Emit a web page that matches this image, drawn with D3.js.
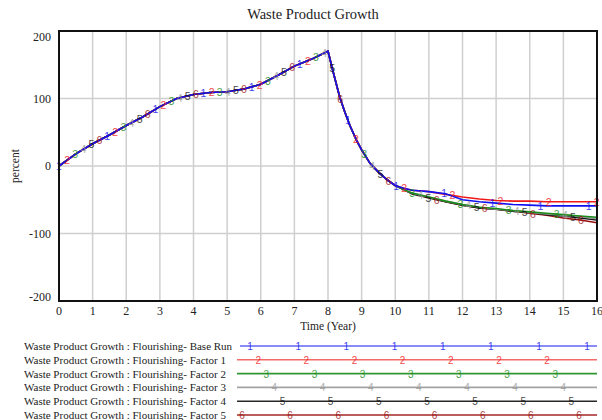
<!DOCTYPE html>
<html>
<head>
<meta charset="utf-8">
<script src="https://cdn.jsdelivr.net/npm/d3@7"></script>
<style>
  body { margin: 0; background: #fff; }
  text { font-family: "Liberation Serif", "Times New Roman", serif; fill: #222; }
</style>
</head>
<body>
<div id="container"></div>
<script>
/* DATA */
const times = [0, 0.5, 1, 1.5, 2, 2.5, 3, 3.5, 4, 4.5, 5, 5.5, 6, 6.5, 7, 7.5, 8,
  8.15, 8.35, 8.5, 8.65, 8.85, 9, 9.25, 9.5, 9.75, 10,
  10.25, 10.5, 11, 11.5, 12, 12.5, 13, 13.5, 14, 14.5, 15, 15.5, 16];

// shared run-up until t = 10
const common = [0, 18, 33, 46, 60, 73, 88, 100, 106, 109, 110, 114, 121, 134, 148, 158, 170,
  140, 102, 80, 60, 38, 24, 4, -9, -20, -29];

const baseRun = common.concat([-33, -36, -38, -41, -50, -53, -55, -57, -58, -59, -59, -59, -59]);
const factor1 = common.concat([-33, -36, -38, -42, -46, -49, -51, -52, -52, -53, -53, -53, -53]);
const factor2 = common.concat([-35, -40, -46, -52, -57, -61, -63, -66, -68, -70, -72, -74, -76]);
const factor3 = common.concat([-35, -40, -46, -52, -57, -61, -64, -66, -69, -71, -73, -75, -78]);
const factor4 = common.concat([-35, -41, -47, -53, -58, -62, -64, -67, -69, -72, -74, -77, -80]);
const factor5 = common.concat([-35, -41, -47, -53, -58, -62, -64, -67, -70, -73, -77, -80, -84]);

const seriesNames = [
  "Waste Product Growth : Flourishing- Base Run",
  "Waste Product Growth : Flourishing- Factor 1",
  "Waste Product Growth : Flourishing- Factor 2",
  "Waste Product Growth : Flourishing- Factor 3",
  "Waste Product Growth : Flourishing- Factor 4",
  "Waste Product Growth : Flourishing- Factor 5"
];
const seriesValues = [baseRun, factor1, factor2, factor3, factor4, factor5];
const seriesColors = ["#1010f0", "#f01818", "#1a8c1a", "#999999", "#111111", "#9a1010"];

const xTicks = d3.range(0, 17);
const yTicks = [-200, -100, 0, 100, 200];

/* CONSTANTS */
const width = 602;
const height = 420;
const plot = {left: 59, right: 597, top: 31, bottom: 301};

const svg = d3.select("#container")
  .append("svg")
  .attr("width", width)
  .attr("height", height);

const xScale = d3.scaleLinear().domain([0, 16]).range([plot.left, plot.right]);
const yScale = d3.scaleLinear().domain([-200, 200]).range([plot.bottom, plot.top]);

// title
svg.append("text")
  .attr("x", 313)
  .attr("y", 19)
  .attr("text-anchor", "middle")
  .style("font-size", "14.5px")
  .text("Waste Product Growth");

// grid
svg.append("g")
  .selectAll("line")
  .data(xTicks.filter(d => d > 0 && d < 16))
  .join("line")
  .attr("x1", d => xScale(d)).attr("x2", d => xScale(d))
  .attr("y1", plot.top).attr("y2", plot.bottom)
  .attr("stroke", "#cfcfcf")
  .attr("stroke-width", 1.5);

svg.append("g")
  .selectAll("line")
  .data(yTicks.filter(d => d > -200 && d < 200))
  .join("line")
  .attr("x1", plot.left).attr("x2", plot.right)
  .attr("y1", d => yScale(d)).attr("y2", d => yScale(d))
  .attr("stroke", "#cfcfcf")
  .attr("stroke-width", 1.5);

// tick labels
svg.append("g")
  .selectAll("text")
  .data(xTicks)
  .join("text")
  .attr("x", d => xScale(d))
  .attr("y", 315)
  .attr("text-anchor", "middle")
  .style("font-size", "12px")
  .text(d => d);

svg.append("g")
  .selectAll("text")
  .data(yTicks)
  .join("text")
  .attr("x", 51)
  .attr("y", d => yScale(d) + (d === 200 ? 10 : d === -200 ? 0 : 4))
  .attr("text-anchor", "end")
  .style("font-size", "12px")
  .text(d => d);

svg.append("text")
  .attr("transform", `translate(19, ${yScale(0)}) rotate(-90)`)
  .attr("text-anchor", "middle")
  .style("font-size", "11.5px")
  .text("percent");

svg.append("text")
  .attr("x", 328)
  .attr("y", 330)
  .attr("text-anchor", "middle")
  .style("font-size", "11.5px")
  .text("Time (Year)");

// series lines
const line = d3.line()
  .x((d, i) => xScale(times[i]))
  .y(d => yScale(d));

const order = [5, 4, 3, 2, 1, 0];
svg.append("g")
  .selectAll("path")
  .data(order)
  .join("path")
  .attr("d", i => line(seriesValues[i]))
  .attr("fill", "none")
  .attr("stroke", i => seriesColors[i])
  .attr("stroke-width", 1.6);

// number markers along each run
const markStep = 48.15;
const markGap = 8.1;
function valueAt(vals, t) {
  const j = Math.min(d3.bisectRight(times, t), times.length - 1);
  const t0 = times[j - 1], t1 = times[j];
  const f = (t - t0) / (t1 - t0);
  return vals[j - 1] + (vals[j] - vals[j - 1]) * f;
}

order.forEach(i => {
  const xs = d3.range(plot.left + i * markGap, 600, markStep);
  svg.append("g")
    .selectAll("text")
    .data(xs)
    .join("text")
    .attr("x", d => d)
    .attr("y", d => yScale(valueAt(seriesValues[i], Math.min(16, xScale.invert(d)))) + 4)
    .attr("text-anchor", "middle")
    .style("font-family", "Liberation Sans, Arial, sans-serif")
    .style("font-size", "10.5px")
    .style("fill", seriesColors[i])
    .style("opacity", 0.8)
    .text(i + 1);
});

// frame
svg.append("rect")
  .attr("x", plot.left)
  .attr("y", plot.top)
  .attr("width", plot.right - plot.left)
  .attr("height", plot.bottom - plot.top)
  .attr("fill", "none")
  .attr("stroke", "#111")
  .attr("stroke-width", 2);

// legend
const legendTop = 346;
const legendRow = 13.8;
const legend = svg.append("g");

seriesNames.forEach((name, i) => {
  const y = legendTop + i * legendRow;
  legend.append("text")
    .attr("x", 24)
    .attr("y", y + 4)
    .style("font-size", "11px")
    .text(name);
  legend.append("line")
    .attr("x1", i === 0 ? 240 : 237)
    .attr("x2", 597)
    .attr("y1", y).attr("y2", y)
    .attr("stroke", seriesColors[i])
    .attr("stroke-opacity", i < 2 ? 0.65 : 0.9)
    .attr("stroke-width", 1.6);
  const xs = d3.range(242 + ((i + 1) % 6) * markGap, 592, markStep);
  legend.append("g")
    .selectAll("text")
    .data(xs)
    .join("text")
    .attr("x", d => d)
    .attr("y", y + 4)
    .attr("text-anchor", "middle")
    .style("font-family", "Liberation Sans, Arial, sans-serif")
    .style("font-size", "10px")
    .style("fill", seriesColors[i])
    .style("opacity", 0.8)
    .text(i + 1);
});
</script>
</body>
</html>
